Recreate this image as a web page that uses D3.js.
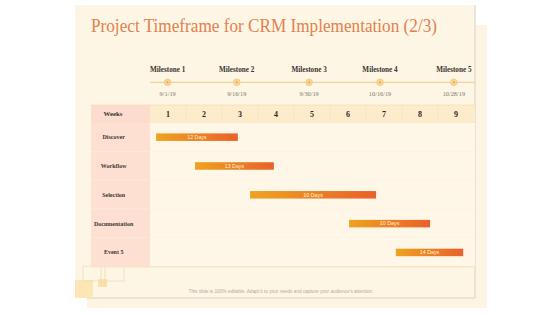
<!DOCTYPE html>
<html>
<head>
<meta charset="utf-8">
<script src="https://cdn.jsdelivr.net/npm/d3@7"></script>
<style>
  body { margin: 0; background: #fff; }
  svg { display: block; }
</style>
</head>
<body>
<div id="chart"></div>
<script>
// DATA
const weeks = [1, 2, 3, 4, 5, 6, 7, 8, 9];
const milestones = ["Milestone 1", "Milestone 2", "Milestone 3", "Milestone 4", "Milestone 5"];
const milestoneDates = ["9/1/19", "9/16/19", "9/30/19", "10/16/19", "10/28/19"];
const milestoneAt = [0.49, 2.41, 4.42, 6.39, 8.44]; // position in weeks
const tasks = ["Discover", "Workflow", "Selection", "Documentation", "Event 5"];
const taskStart = [0.17, 1.25, 2.78, 5.53, 6.83]; // weeks
const taskEnd = [2.44, 3.44, 6.28, 7.78, 8.70];
const taskLabel = ["12 Days", "13 Days", "10 Days", "10 Days", "14 Days"];

const width = 560, height = 315;

const svg = d3.select("#chart").append("svg")
  .attr("width", width)
  .attr("height", height);

// gradient for bars
const grad = svg.append("defs").append("linearGradient")
  .attr("id", "barGrad")
  .attr("x1", "0%").attr("x2", "100%");
grad.append("stop").attr("offset", "0%").attr("stop-color", "#eea31f");
grad.append("stop").attr("offset", "100%").attr("stop-color", "#e9612b");

// back card + main card
svg.append("rect")
  .attr("x", 87).attr("y", 25).attr("width", 400).attr("height", 283)
  .attr("fill", "#fdf4e4");
svg.append("rect")
  .attr("x", 75).attr("y", 5).attr("width", 400).attr("height", 293)
  .attr("fill", "#fdf6e5");
// card border right + bottom
svg.append("path")
  .attr("d", "M475,5 V298 H87")
  .attr("fill", "none")
  .attr("stroke", "#d8d0c2")
  .attr("stroke-width", 1);

// decorative squares
const deco = svg.append("g");
deco.append("rect").attr("x", 75).attr("y", 280).attr("width", 18).attr("height", 18).attr("fill", "#fbe6b4");
deco.append("rect").attr("x", 98).attr("y", 279).attr("width", 9).attr("height", 8).attr("fill", "#fbe1a6");
deco.append("rect").attr("x", 83).attr("y", 266).attr("width", 41).attr("height", 15)
  .attr("fill", "none").attr("stroke", "#f0dcc0").attr("stroke-width", 0.8);
deco.append("line").attr("x1", 101).attr("x2", 101).attr("y1", 266).attr("y2", 284)
  .attr("stroke", "#f0d7ad").attr("stroke-width", 0.8);
deco.append("line").attr("x1", 105).attr("x2", 105).attr("y1", 266).attr("y2", 284)
  .attr("stroke", "#f0d7ad").attr("stroke-width", 0.8);

// TITLE
svg.append("text")
  .attr("x", 91).attr("y", 32)
  .attr("textLength", 346)
  .attr("lengthAdjust", "spacingAndGlyphs")
  .style("font-family", "'Liberation Serif', serif")
  .style("font-size", "19px")
  .attr("fill", "#e3804e")
  .text("Project Timeframe for CRM Implementation (2/3)");

// SCALES
const xScale = d3.scaleLinear()
  .domain([0, weeks.length])
  .range([150, 474]);

const yScale = d3.scaleBand()
  .domain(tasks)
  .range([122.7, 266.8]);

const colW = xScale(1) - xScale(0);

// MILESTONES
svg.append("line")
  .attr("x1", 150).attr("x2", 475)
  .attr("y1", 82.3).attr("y2", 82.3)
  .attr("stroke", "#f0d596").attr("stroke-width", 1.2);

const ms = svg.append("g").selectAll("g")
  .data(milestones)
  .join("g")
  .attr("transform", (d, i) => `translate(${xScale(milestoneAt[i])},0)`);

ms.append("text")
  .attr("y", 72)
  .attr("text-anchor", "middle")
  .style("font-family", "'Liberation Serif', serif")
  .style("font-weight", "bold")
  .style("font-size", "7.2px")
  .attr("fill", "#3a3330")
  .text(d => d);

ms.append("circle")
  .attr("cy", 82.3).attr("r", 3.3)
  .attr("fill", "#f8d596").attr("stroke", "#f3c77c").attr("stroke-width", 0.8);
ms.append("circle")
  .attr("cy", 82.3).attr("r", 1)
  .attr("fill", "#e9a443");

ms.append("text")
  .attr("y", 95.5)
  .attr("text-anchor", "middle")
  .style("font-family", "'Liberation Serif', serif")
  .style("font-size", "6.3px")
  .attr("fill", "#7d7670")
  .text((d, i) => milestoneDates[i]);

// TABLE HEADER
svg.append("rect")
  .attr("x", 91).attr("y", 105).attr("width", 59).attr("height", 17.7)
  .attr("fill", "#fbdcce");
svg.append("rect")
  .attr("x", 150).attr("y", 105).attr("width", 325).attr("height", 17.7)
  .attr("fill", "#fdeccb");
svg.append("line")
  .attr("x1", 91).attr("x2", 475).attr("y1", 105).attr("y2", 105)
  .attr("stroke", "#f5dfb0").attr("stroke-width", 0.8);
svg.append("line")
  .attr("x1", 91).attr("x2", 475).attr("y1", 122.7).attr("y2", 122.7)
  .attr("stroke", "#f5dcaa").attr("stroke-width", 0.8);

svg.append("g").selectAll("line")
  .data(weeks.slice(1))
  .join("line")
  .attr("x1", d => xScale(d - 1)).attr("x2", d => xScale(d - 1))
  .attr("y1", 105).attr("y2", 122.7)
  .attr("stroke", "#f9e3b8").attr("stroke-width", 0.6);

svg.append("text")
  .attr("x", 113).attr("y", 116)
  .attr("text-anchor", "middle")
  .style("font-family", "'Liberation Serif', serif")
  .style("font-weight", "bold")
  .style("font-size", "6.8px")
  .attr("fill", "#3a3330")
  .text("Weeks");

svg.append("g").selectAll("text")
  .data(weeks)
  .join("text")
  .attr("x", d => xScale(d - 0.5))
  .attr("y", 116.5)
  .attr("text-anchor", "middle")
  .style("font-family", "'Liberation Serif', serif")
  .style("font-weight", "bold")
  .style("font-size", "8px")
  .attr("fill", "#2e2a28")
  .text(d => d);

// ROWS
const rows = svg.append("g").selectAll("g")
  .data(tasks)
  .join("g");

rows.append("rect")
  .attr("x", 91).attr("y", d => yScale(d))
  .attr("width", 59).attr("height", yScale.bandwidth())
  .attr("fill", "#fde0d2");

rows.append("rect")
  .attr("x", 150).attr("y", d => yScale(d))
  .attr("width", 325).attr("height", yScale.bandwidth())
  .attr("fill", "#fef6e7");

rows.append("line")
  .attr("x1", 91).attr("x2", 475)
  .attr("y1", d => yScale(d) + yScale.bandwidth())
  .attr("y2", d => yScale(d) + yScale.bandwidth())
  .attr("stroke", "#fbf0e0").attr("stroke-width", 1);

rows.append("text")
  .attr("x", 113.7)
  .attr("y", d => yScale(d) + yScale.bandwidth() / 2 + 2)
  .attr("text-anchor", "middle")
  .style("font-family", "'Liberation Serif', serif")
  .style("font-weight", "bold")
  .style("font-size", "6px")
  .attr("fill", "#3e3632")
  .text(d => d);

// BARS
rows.append("rect")
  .attr("x", (d, i) => xScale(taskStart[i]))
  .attr("y", d => yScale(d) + yScale.bandwidth() / 2 - 3.7)
  .attr("width", (d, i) => xScale(taskEnd[i]) - xScale(taskStart[i]))
  .attr("height", 7.5)
  .attr("fill", "url(#barGrad)");

rows.append("text")
  .attr("x", (d, i) => (xScale(taskStart[i]) + xScale(taskEnd[i])) / 2)
  .attr("y", d => yScale(d) + yScale.bandwidth() / 2 + 1.9)
  .attr("text-anchor", "middle")
  .style("font-family", "'Liberation Sans', sans-serif")
  .style("font-size", "5.3px")
  .attr("fill", "#fdf1dc")
  .text((d, i) => taskLabel[i]);

// table bottom line
svg.append("line")
  .attr("x1", 91).attr("x2", 475).attr("y1", 266.8).attr("y2", 266.8)
  .attr("stroke", "#f4dcad").attr("stroke-width", 0.8);

// FOOTER
svg.append("text")
  .attr("x", 281).attr("y", 293)
  .attr("text-anchor", "middle")
  .attr("textLength", 185)
  .attr("lengthAdjust", "spacingAndGlyphs")
  .style("font-family", "'Liberation Sans', sans-serif")
  .style("font-size", "5px")
  .attr("fill", "#b5aca0")
  .text("This slide is 100% editable. Adapt it to your needs and capture your audience's attention.");
</script>
</body>
</html>
